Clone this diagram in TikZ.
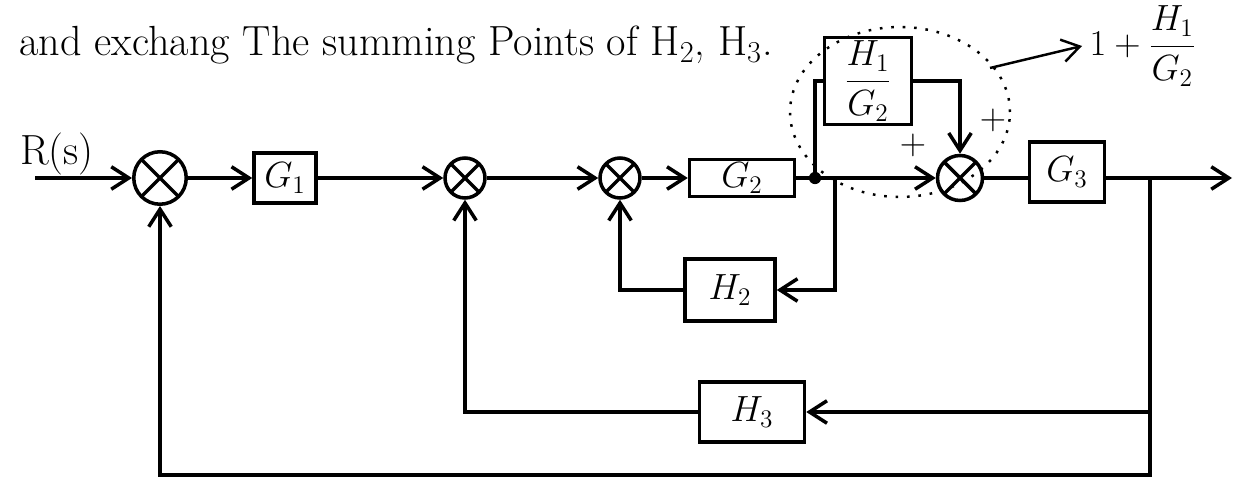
\documentclass[tikz,border=0pt]{standalone}
\usepackage{amsmath}
\usetikzlibrary{arrows.meta,positioning}
\begin{document}
\begin{tikzpicture}[x=0.02cm,y=-0.02cm,line width=2pt,
    every node/.style={font=\fontsize{21}{24}\selectfont},
    big/.style={font=\fontsize{24}{28}\selectfont},
    blk/.style={draw,rectangle,inner sep=2pt},
    sumpt/.style={draw,circle,minimum size=#1,inner sep=0pt,
      path picture={\draw (path picture bounding box.north west)--(path picture bounding box.south east)
                          (path picture bounding box.north east)--(path picture bounding box.south west);}},
    sumpt/.default=0.8cm,
    sig/.style={-{Straight Barb[length=3.5mm,width=4.5mm]}}]
  \useasboundingbox (0,0) rectangle (1247,499);

  \node[big,anchor=west] (note) at (12,45) {and exchang The summing Points of H$_2$, H$_3$.};

  \node[big] (rs) at (57,154) {R(s)};
  \coordinate (in) at (35,178);
  \node[sumpt=1.05cm] (s1) at (160,178) {};
  \node[blk,minimum width=1.24cm,minimum height=1cm] (g1) at (285,178) {$G_1$};
  \node[sumpt] (s2) at (465,178) {};
  \node[sumpt] (s3) at (620,178) {};
  \node[blk,minimum width=2.1cm,minimum height=0.72cm] (g2) at (742,178) {$G_2$};
  \coordinate (br) at (815,178);
  \coordinate (t2) at (835,178);
  \node[blk,minimum width=1.74cm,minimum height=1.44cm] (h1g2) at (868,81) {$\dfrac{H_1}{G_2}$};
  \node[sumpt=0.9cm] (s4) at (960,178) {};
  \node[blk,minimum width=1.5cm,minimum height=1.2cm] (g3) at (1067,172) {$G_3$};
  \coordinate (out) at (1232,178);
  \coordinate (t3) at (1150,178);
  \coordinate (bl) at (1150,475);
  \node[blk,minimum width=1.8cm,minimum height=1.24cm] (h2) at (730,290) {$H_2$};
  \node[blk,minimum width=2.1cm,minimum height=1.2cm] (h3) at (752,412) {$H_3$};

  \node (p1) at (913,145) {$+$};
  \node (p2) at (993,120) {$+$};

  % forward path
  \draw[sig] (in) -- (s1);
  \draw[sig] (s1) -- (g1);
  \draw[sig] (g1) -- (s2);
  \draw[sig] (s2) -- (s3);
  \draw[sig] (s3) -- (g2);
  \draw (g2) -- (br);
  \draw[sig] (br) -- (s4);
  \draw (s4) -- (g3.west |- s4);
  \draw[sig] (g3.east |- out) -- (out);
  \fill (br) circle (3.5pt);

  % H1/G2 branch
  \draw (br) |- (h1g2);
  \draw[sig] (h1g2) -| (s4);

  % feedback loops
  \draw[sig] (t2) |- (h2);
  \draw[sig] (h2) -| (s3);
  \draw[sig] (t3) |- (h3);
  \draw[sig] (h3) -| (s2);
  \draw[sig] (t3) -- (bl) -| (s1);

  \draw[line width=1.4pt,dash pattern=on 1.5pt off 5pt] (900,112) ellipse [x radius=2.2cm,y radius=1.7cm];
  \coordinate (ea) at (990,68);
  \node[anchor=west] (res) at (1082,46) {$1+\dfrac{H_1}{G_2}$};
  \draw[sig,line width=1.4pt] (ea) -- (res.west);
\end{tikzpicture}
\end{document}
